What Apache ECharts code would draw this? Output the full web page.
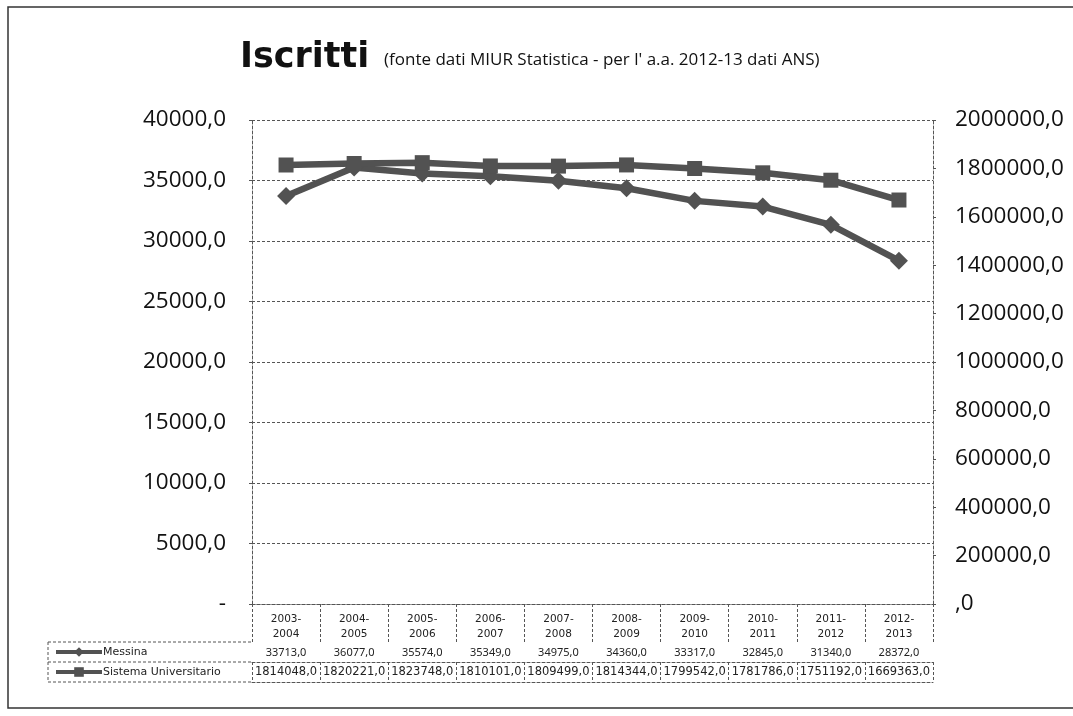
<!DOCTYPE html>
<html>
<head>
<meta charset="utf-8">
<script src="https://cdn.jsdelivr.net/npm/echarts@6/dist/echarts.min.js"></script>
<style>
  html, body { margin: 0; padding: 0; background: #fff; }
  #chart { width: 1073px; height: 716px; }
</style>
</head>
<body>
<div id="chart"></div>
<script>
// Anni accademici
const categories = ['2003-2004', '2004-2005', '2005-2006', '2006-2007', '2007-2008',
                    '2008-2009', '2009-2010', '2010-2011', '2011-2012', '2012-2013'];
// Iscritti Università di Messina (asse sinistro)
const messina = [33713, 36077, 35574, 35349, 34975, 34360, 33317, 32845, 31340, 28372];
// Iscritti sistema universitario nazionale (asse destro)
const sistema = [1814048, 1820221, 1823748, 1810101, 1809499, 1814344, 1799542, 1781786, 1751192, 1669363];
const seriesNames = ['Messina', 'Sistema Universitario'];
// Scale degli assi
const leftAxis = { min: 0, max: 40000, step: 5000 };
const rightAxis = { min: 0, max: 2000000, step: 200000 };

const fmt = v => v.toFixed(1).replace('.', ',');

// Geometria dell'area del grafico e della tabella dati sottostante
const W = 1073, H = 716;
const G = { left: 252, right: 140, top: 120, bottom: 112 };
const plotBottom = H - G.bottom;
const headerH = 38, rowH = 20;
const tableLeft = 48;
const INK = '#525252';
const DASH = { color: '#555', width: 1, type: [3, 2] };

const chart = echarts.init(document.getElementById('chart'), null, { renderer: 'canvas' });

function rowAxis(offset, labelFn, labelStyle, withTicks) {
  return {
    type: 'category',
    gridIndex: 0,
    position: 'bottom',
    offset: offset,
    data: categories,
    boundaryGap: true,
    axisLine: { show: true, lineStyle: DASH },
    axisTick: { show: withTicks, length: rowH, lineStyle: DASH },
    axisLabel: Object.assign({
      show: !!labelFn,
      interval: 0,
      formatter: labelFn ? (v, i) => labelFn(i) : ''
    }, labelStyle),
    splitLine: { show: false }
  };
}

const y0 = plotBottom + headerH;

const option = {
  backgroundColor: '#fff',
  animation: false,
  title: [
    {
      text: 'Iscritti',
      left: 240, top: 40, padding: 0,
      textStyle: { fontFamily: 'DejaVu Sans', fontWeight: 'bold', fontSize: 35, color: '#111' }
    },
    {
      text: "(fonte dati MIUR Statistica - per l' a.a. 2012-13 dati ANS)",
      left: 384, top: 52, padding: 0,
      textStyle: { fontFamily: 'Open Sans', fontWeight: 'normal', fontSize: 17, color: '#111' }
    }
  ],
  legend: {
    orient: 'vertical',
    left: tableLeft + 6,
    top: y0 + 3,
    itemWidth: 46,
    itemHeight: 12,
    itemGap: 6,
    padding: 0,
    data: seriesNames,
    lineStyle: { width: 4 },
    textStyle: { fontFamily: 'DejaVu Sans', fontSize: 11, color: '#222', padding: [0, 0, 0, -4], lineHeight: 14 }
  },
  grid: { left: G.left, right: G.right, top: G.top, bottom: G.bottom, containLabel: false },
  xAxis: [
    {
      type: 'category',
      position: 'bottom',
      data: categories,
      boundaryGap: true,
      axisLine: { show: true, lineStyle: DASH },
      axisTick: { show: true, length: headerH, lineStyle: DASH },
      axisLabel: {
        interval: 0,
        margin: 8,
        fontFamily: 'DejaVu Sans',
        fontSize: 10.5,
        lineHeight: 15,
        color: '#222',
        formatter: v => v.replace('-', '-\n')
      }
    },
    rowAxis(headerH, i => fmt(messina[i]),
      { margin: 4, fontFamily: 'Noto Sans', fontSize: 11, color: '#222', lineHeight: 13 }, true),
    rowAxis(headerH + rowH, i => fmt(sistema[i]),
      { margin: 4, fontFamily: 'DejaVu Sans', fontSize: 11.5, color: '#222', lineHeight: 13 }, true),
    rowAxis(headerH + 2 * rowH, null, {}, false)
  ],
  yAxis: [
    {
      type: 'value',
      position: 'left',
      min: leftAxis.min, max: leftAxis.max, interval: leftAxis.step,
      axisLine: { show: true, lineStyle: DASH },
      axisTick: { show: true, length: 5, lineStyle: DASH },
      splitLine: { show: true, lineStyle: DASH },
      axisLabel: {
        margin: 26,
        fontFamily: 'Open Sans',
        fontSize: 22.5,
        color: '#111',
        formatter: v => v === 0 ? '-' : fmt(v)
      }
    },
    {
      type: 'value',
      position: 'right',
      min: rightAxis.min, max: rightAxis.max, interval: rightAxis.step,
      axisLine: { show: true, lineStyle: DASH },
      axisTick: { show: true, length: 5, lineStyle: DASH },
      splitLine: { show: false },
      axisLabel: {
        margin: 22,
        fontFamily: 'Open Sans',
        fontSize: 22.5,
        color: '#111',
        formatter: v => v === 0 ? ',0' : fmt(v)
      }
    }
  ],
  series: [
    {
      name: seriesNames[0],
      type: 'line',
      xAxisIndex: 0,
      yAxisIndex: 0,
      data: messina,
      symbol: 'diamond',
      symbolSize: 18,
      showAllSymbol: true,
      color: INK,
      lineStyle: { width: 6.5, color: INK },
      itemStyle: { color: INK },
      z: 3
    },
    {
      name: seriesNames[1],
      type: 'line',
      xAxisIndex: 0,
      yAxisIndex: 1,
      data: sistema,
      symbol: 'rect',
      symbolSize: 15,
      showAllSymbol: true,
      color: INK,
      lineStyle: { width: 6.5, color: INK },
      itemStyle: { color: INK },
      z: 4
    }
  ],
  graphic: [
    // cornice esterna
    { type: 'rect', silent: true, shape: { x: 8, y: 7, width: W + 20, height: 701 },
      style: { fill: null, stroke: '#333', lineWidth: 1.5 } },
    // parte sinistra della tabella (colonna legenda)
    { type: 'line', silent: true, shape: { x1: tableLeft, y1: y0, x2: G.left, y2: y0 }, style: { stroke: '#555', lineWidth: 1, lineDash: [3, 2] } },
    { type: 'line', silent: true, shape: { x1: tableLeft, y1: y0 + rowH, x2: G.left, y2: y0 + rowH }, style: { stroke: '#555', lineWidth: 1, lineDash: [3, 2] } },
    { type: 'line', silent: true, shape: { x1: tableLeft, y1: y0 + 2 * rowH, x2: G.left, y2: y0 + 2 * rowH }, style: { stroke: '#555', lineWidth: 1, lineDash: [3, 2] } },
    { type: 'line', silent: true, shape: { x1: tableLeft, y1: y0, x2: tableLeft, y2: y0 + 2 * rowH }, style: { stroke: '#555', lineWidth: 1, lineDash: [3, 2] } }
  ]
};

chart.setOption(option);
</script>
</body>
</html>
